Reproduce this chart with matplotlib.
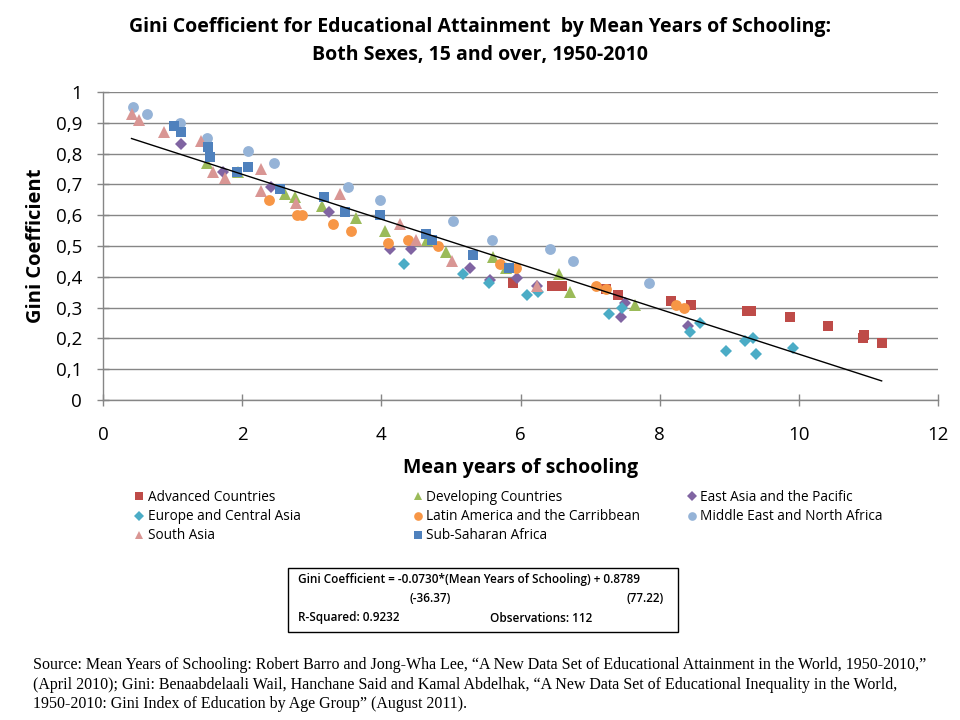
import matplotlib
matplotlib.use("Agg")
import matplotlib.pyplot as plt
from matplotlib.ticker import FuncFormatter, MultipleLocator
from matplotlib.patches import Rectangle

# ---- data (mean years of schooling, Gini) ----
adv_x = [5.89, 6.45, 6.60, 7.23, 7.40, 8.16, 8.45, 9.25, 9.31, 9.87, 10.42, 10.93, 10.92, 11.19]
adv_y = [0.38, 0.37, 0.37, 0.36, 0.34, 0.32, 0.31, 0.29, 0.29, 0.27, 0.24, 0.21, 0.20, 0.185]

dev_x = [1.49, 1.94, 2.61, 2.76, 3.15, 3.64, 4.05, 4.66, 4.93, 5.60, 5.79, 6.55, 6.71, 7.64]
dev_y = [0.77, 0.74, 0.67, 0.66, 0.63, 0.59, 0.55, 0.52, 0.48, 0.465, 0.43, 0.41, 0.35, 0.31]

eap_x = [1.12, 1.72, 2.41, 3.25, 4.12, 4.43, 5.27, 5.56, 5.95, 6.23, 7.44, 7.50, 8.41]
eap_y = [0.83, 0.74, 0.69, 0.61, 0.49, 0.49, 0.43, 0.39, 0.395, 0.37, 0.27, 0.315, 0.24]

eca_x = [4.32, 5.17, 5.55, 6.09, 6.25, 7.27, 7.46, 8.43, 8.58, 8.95, 9.22, 9.34, 9.38, 9.91]
eca_y = [0.44, 0.41, 0.38, 0.34, 0.35, 0.28, 0.30, 0.22, 0.25, 0.16, 0.19, 0.20, 0.15, 0.17]

lac_x = [2.39, 2.79, 2.86, 3.30, 3.56, 4.09, 4.38, 4.81, 5.70, 5.93, 7.08, 7.23, 8.23, 8.35]
lac_y = [0.65, 0.60, 0.60, 0.57, 0.55, 0.51, 0.52, 0.50, 0.44, 0.43, 0.37, 0.36, 0.31, 0.30]

mena_x = [0.43, 0.63, 1.10, 1.49, 2.08, 2.46, 3.52, 3.98, 5.03, 5.59, 6.42, 6.75, 7.84]
mena_y = [0.95, 0.93, 0.90, 0.85, 0.81, 0.77, 0.69, 0.65, 0.58, 0.52, 0.49, 0.45, 0.38]

sa_x = [0.41, 0.52, 0.88, 1.41, 1.58, 1.75, 2.27, 2.27, 2.77, 3.41, 4.27, 4.50, 5.01, 6.24]
sa_y = [0.93, 0.91, 0.87, 0.84, 0.74, 0.72, 0.75, 0.68, 0.64, 0.67, 0.57, 0.52, 0.45, 0.37]

ssa_x = [1.02, 1.12, 1.51, 1.54, 1.93, 2.08, 2.54, 3.18, 3.48, 3.98, 4.64, 4.73, 5.32, 5.83]
ssa_y = [0.89, 0.87, 0.82, 0.79, 0.74, 0.755, 0.685, 0.66, 0.61, 0.60, 0.54, 0.52, 0.47, 0.43]

series_names = ["Advanced Countries", "Developing Countries", "East Asia and the Pacific",
                "Europe and Central Asia", "Latin America and the Carribbean",
                "Middle East and North Africa", "South Asia", "Sub-Saharan Africa"]

slope = -0.0730
intercept = 0.8789

# ---- styling ----
series = [
    (adv_x, adv_y, "s", "#BE4B48", 7.0),
    (dev_x, dev_y, "^", "#9BBB59", 8.0),
    (eap_x, eap_y, "D", "#8064A2", 5.8),
    (eca_x, eca_y, "D", "#4BACC6", 5.8),
    (lac_x, lac_y, "o", "#F79646", 7.8),
    (mena_x, mena_y, "o", "#95B3D7", 7.8),
    (sa_x, sa_y, "^", "#D99694", 8.0),
    (ssa_x, ssa_y, "s", "#4F81BD", 7.0),
]

plt.rcParams['font.family'] = ['Open Sans', 'DejaVu Sans']

fig = plt.figure(figsize=(9.6, 7.2), dpi=100)
ax = fig.add_axes([103/960, 1-400/720, (938-103)/960, (400-92)/720])

handles = []
for (xs, ys, m, c, ms), name in zip(series, series_names):
    h, = ax.plot(xs, ys, linestyle="none", marker=m, color=c, markersize=ms,
                 markeredgewidth=0, label=name, zorder=3)
    handles.append(h)

all_x = adv_x + dev_x + eap_x + eca_x + lac_x + mena_x + sa_x + ssa_x
xmin, xmax = min(all_x), max(all_x)
ax.plot([xmin, xmax], [intercept + slope*xmin, intercept + slope*xmax],
        color="black", linewidth=1.0, zorder=4)

ax.set_xlim(0, 12)
ax.set_ylim(0, 1)
ax.xaxis.set_major_locator(MultipleLocator(2))
ax.yaxis.set_major_locator(MultipleLocator(0.1))
ax.yaxis.set_major_formatter(FuncFormatter(
    lambda v, p: "0" if abs(v) < 1e-9 else ("1" if abs(v-1) < 1e-9 else f"{v:.1f}".replace(".", ","))))
ax.grid(axis="y", color="#868686", linewidth=1.0, zorder=0)
ax.set_axisbelow(True)
for s in ["top", "right"]:
    ax.spines[s].set_visible(False)
for s in ["left", "bottom"]:
    ax.spines[s].set_color("#868686")
    ax.spines[s].set_linewidth(1.0)
ax.tick_params(axis="both", direction="inout", length=8, width=1.0, color="#868686",
               labelsize=13.5)
ax.tick_params(axis="y", pad=11)
ax.tick_params(axis="x", pad=15)

ax.set_xlabel("Mean years of schooling", fontsize=14, fontweight="bold", labelpad=10)
ax.set_ylabel("Gini Coefficient", fontsize=14.5, fontweight="bold", labelpad=7)

fig.text(0.5, 1-27/720, "Gini Coefficient for Educational Attainment  by Mean Years of Schooling:",
         ha="center", va="center", fontsize=14, fontweight="bold")
fig.text(0.5, 1-55/720, "Both Sexes, 15 and over, 1950-2010",
         ha="center", va="center", fontsize=14, fontweight="bold")

# legend: three columns placed individually
columns = [[0, 3, 6], [1, 4, 7], [2, 5]]
col_x = [123, 402, 676]
for idxs, cx in zip(columns, col_x):
    lg = fig.legend([handles[i] for i in idxs], [series_names[i] for i in idxs],
                    loc="upper left", bbox_to_anchor=(cx/960, 1-478/720), frameon=False,
                    fontsize=9.8, handlelength=0.6, handletextpad=0.3,
                    labelspacing=0.3, markerscale=0.8)

# regression box
fig.patches.append(Rectangle((288/960, 1-632/720), (678-288)/960, (632-568)/720,
                             transform=fig.transFigure, fill=False, edgecolor="black",
                             linewidth=1.0))
bx = dict(fontsize=8.5, fontweight="semibold", va="center")
fig.text(298/960, 1-580/720, "Gini Coefficient = -0.0730*(Mean Years of Schooling) + 0.8789", ha="left", **bx)
fig.text(410/960, 1-599/720, "(-36.37)", ha="left", **bx)
fig.text(664/960, 1-599/720, "(77.22)", ha="right", **bx)
fig.text(298/960, 1-618/720, "R-Squared: 0.9232", ha="left", **bx)
fig.text(490/960, 1-618/720, "Observations: 112", ha="left", **bx)

src = ("Source: Mean Years of Schooling: Robert Barro and Jong-Wha Lee, \u201cA New Data Set of Educational Attainment in the World, 1950-2010,\u201d\n"
       "(April 2010); Gini: Benaabdelaali Wail, Hanchane Said and Kamal Abdelhak, \u201cA New Data Set of Educational Inequality in the World,\n"
       "1950-2010: Gini Index of Education by Age Group\u201d (August 2011).")
fig.text(33/960, 1-657/720, src, ha="left", va="top", fontsize=11.5,
         family=["Liberation Serif", "DejaVu Serif"], linespacing=1.3)

fig.savefig("out.png", dpi=100)
